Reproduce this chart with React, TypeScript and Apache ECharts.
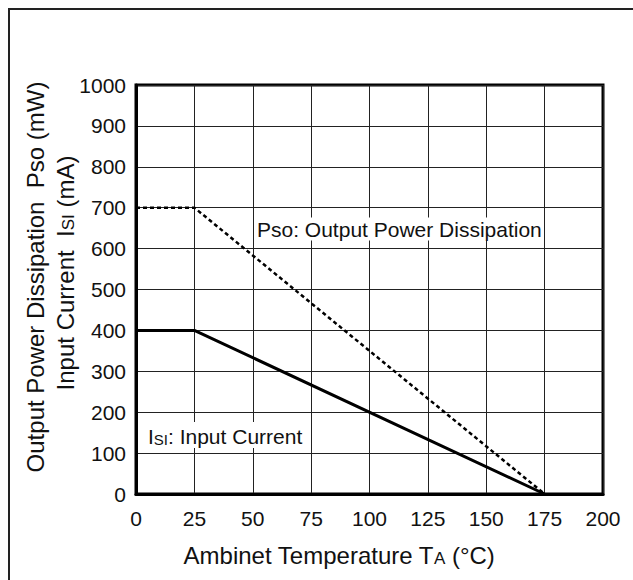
import React, { useEffect, useRef } from 'react';
import * as echarts from 'echarts';

const temps = [0, 25, 175];
const psoValues = [700, 700, 0];
const isiValues = [400, 400, 0];

const FONT = "'Liberation Sans', Arial, Helvetica, sans-serif";

export default function App() {
  const ref = useRef<HTMLDivElement>(null);
  useEffect(() => {
    const chart = echarts.init(ref.current!, null, { renderer: 'svg' });
    chart.setOption({
      animation: false,
      backgroundColor: '#fff',
      textStyle: { fontFamily: FONT },
      grid: {
        left: 136, top: 85, width: 467, height: 409,
        show: true, borderColor: '#000', borderWidth: 3, backgroundColor: 'transparent'
      },
      xAxis: {
        type: 'value', min: 0, max: 200, interval: 25,
        axisLine: { show: true, lineStyle: { color: '#000', width: 3 } },
        axisTick: { show: false },
        axisLabel: { fontSize: 21, color: '#111', margin: 14, fontFamily: FONT, formatter: (v: number) => String(v) },
        splitLine: { show: true, lineStyle: { color: '#222', width: 1 } }
      },
      yAxis: {
        type: 'value', min: 0, max: 1000, interval: 100,
        axisLine: { show: true, lineStyle: { color: '#000', width: 3 } },
        axisTick: { show: false },
        axisLabel: { fontSize: 21, color: '#111', margin: 10, fontFamily: FONT, formatter: (v: number) => String(v) },
        splitLine: { show: true, lineStyle: { color: '#222', width: 1 } }
      },
      series: [
        {
          name: 'Pso', type: 'line', symbol: 'none',
          data: temps.map((t, i) => [t, psoValues[i]]),
          lineStyle: { color: '#000', width: 2.5, type: [4, 3] }, z: 3
        },
        {
          name: 'Isi', type: 'line', symbol: 'none',
          data: temps.map((t, i) => [t, isiValues[i]]),
          lineStyle: { color: '#000', width: 3 }, z: 3
        }
      ],
      graphic: [
        {
          type: 'rect', shape: { x: 9, y: 9, width: 700, height: 700 },
          style: { fill: 'none', stroke: '#222', lineWidth: 2 }, silent: true
        },
        {
          type: 'text', x: 256, y: 229, z: 10,
          style: {
            text: 'Pso: Output Power Dissipation', fontSize: 21, fontFamily: FONT, fill: '#111',
            verticalAlign: 'middle', align: 'left', backgroundColor: '#fff', padding: [1, 1]
          }
        },
        {
          type: 'text', x: 147, y: 435, z: 10,
          style: {
            text: '{a|I}{b|SI}{a|: Input Current}', fontFamily: FONT, fill: '#111',
            verticalAlign: 'middle', align: 'left', backgroundColor: '#fff', padding: [1, 1],
            rich: {
              a: { fontSize: 21, lineHeight: 24, fontFamily: FONT, fill: '#111', verticalAlign: 'bottom' },
              b: { fontSize: 15, lineHeight: 24, fontFamily: FONT, fill: '#111', verticalAlign: 'bottom' }
            }
          }
        },
        {
          type: 'text', x: 339, y: 553,
          style: {
            text: '{a|Ambinet Temperature T}{b|A}{a| (°C)}', fontFamily: FONT, fill: '#111',
            verticalAlign: 'middle', align: 'center',
            rich: {
              a: { fontSize: 24, lineHeight: 28, fontFamily: FONT, fill: '#111', verticalAlign: 'bottom' },
              b: { fontSize: 17, lineHeight: 28, fontFamily: FONT, fill: '#111', verticalAlign: 'bottom' }
            }
          }
        },
        {
          type: 'text', x: 35, y: 277, rotation: Math.PI / 2,
          style: {
            text: 'Output Power Dissipation  Pso (mW)', fontSize: 24, fontFamily: FONT, fill: '#111',
            verticalAlign: 'middle', align: 'center'
          }
        },
        {
          type: 'text', x: 63, y: 273, rotation: Math.PI / 2,
          style: {
            text: '{a|Input Current  I}{b|SI}{a| (mA)}', fontFamily: FONT, fill: '#111',
            verticalAlign: 'middle', align: 'center',
            rich: {
              a: { fontSize: 24, lineHeight: 28, fontFamily: FONT, fill: '#111', verticalAlign: 'bottom' },
              b: { fontSize: 17, lineHeight: 28, fontFamily: FONT, fill: '#111', verticalAlign: 'bottom' }
            }
          }
        }
      ]
    });
    return () => chart.dispose();
  }, []);
  return <div ref={ref} style={{ position: 'fixed', left: 0, top: 0, width: 633, height: 580 }} />;
}
